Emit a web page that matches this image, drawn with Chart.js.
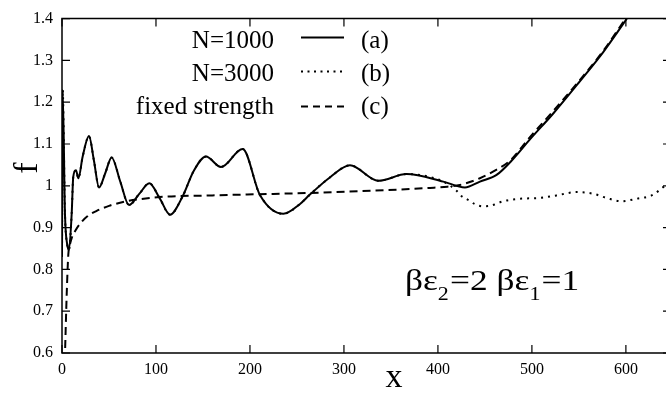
<!DOCTYPE html>
<html><head><meta charset="utf-8">
<script src="https://cdn.jsdelivr.net/npm/chart.js@4/dist/chart.umd.min.js"></script>
<style>html,body{margin:0;padding:0;overflow:hidden;background:#fff;width:666px;height:393px}</style>
</head><body>
<canvas id="c" width="672" height="393" style="width:672px;height:393px;display:block"></canvas>
<script>
// ---- data ----
const xA = [0, 0.7, 3.2, 5.5, 7.4, 10.3, 12, 14.9, 17.4, 22, 28.7, 34, 39.4, 46, 52.8, 62, 71.3, 82, 92.9, 104, 114.9, 128.4, 140, 153.2, 169.1, 192.2, 210.6, 235.5, 253, 263.8, 285, 306.4, 336.5, 366.7, 405.7, 428.7, 444.7, 462.4, 480, 497.9, 522.7, 551, 575.9, 600.7, 625];
const yA = [0.83, 1.23, 0.93, 0.86, 0.847, 0.933, 1.022, 1.037, 1.018, 1.07, 1.119, 1.06, 0.996, 1.03, 1.068, 1.01, 0.954, 0.98, 1.006, 0.97, 0.931, 0.975, 1.035, 1.07, 1.045, 1.088, 0.978, 0.933, 0.956, 0.979, 1.02, 1.049, 1.012, 1.028, 1.010, 0.996, 1.010, 1.026, 1.064, 1.111, 1.173, 1.250, 1.320, 1.399, 1.48];

const xB = [0, 0.7, 3.2, 5.5, 7.4, 10.3, 12, 14.9, 17.4, 22, 28.7, 34, 39.4, 46, 52.8, 62, 71.3, 82, 92.9, 104, 114.9, 128.4, 140, 153.2, 169.1, 192.2, 210.6, 235.5, 253, 263.8, 285, 306.4, 336.5, 366.7, 405.7, 419.9, 425.2, 432.3, 439.4, 448, 455.3, 469.5, 487.2, 508.5, 526.2, 547.5, 565.2, 579.4, 595.4, 611.3, 627.3, 640.4, 650];
const yB = [0.83, 1.23, 0.93, 0.86, 0.847, 0.933, 1.022, 1.037, 1.018, 1.07, 1.119, 1.06, 0.996, 1.03, 1.068, 1.01, 0.954, 0.98, 1.006, 0.97, 0.931, 0.975, 1.035, 1.07, 1.045, 1.088, 0.978, 0.933, 0.956, 0.979, 1.02, 1.049, 1.012, 1.028, 1.010, 0.988, 0.975, 0.966, 0.956, 0.951, 0.952, 0.963, 0.969, 0.971, 0.977, 0.985, 0.981, 0.971, 0.963, 0.969, 0.977, 0.998, 1.015];

const xC = [2.5, 3.2, 5, 6.7, 8.5, 10.3, 14, 19.1, 27, 36.9, 50, 68.8, 104, 160, 263.8, 359.6, 391.5, 410, 423.4, 444.7, 462, 476.6, 497, 522, 551, 576, 600, 625];
const yC = [0.55, 0.6, 0.74, 0.835, 0.86, 0.875, 0.892, 0.909, 0.927, 0.940, 0.952, 0.963, 0.973, 0.977, 0.983, 0.991, 0.995, 0.998, 1.002, 1.018, 1.038, 1.060, 1.114, 1.177, 1.253, 1.323, 1.401, 1.48];

const seriesLabels = ['N=1000', 'N=3000', 'fixed strength'];
const seriesTags = ['(a)', '(b)', '(c)'];
const xTicks = [0, 100, 200, 300, 400, 500, 600];
const yTicks = [0.6, 0.7, 0.8, 0.9, 1.0, 1.1, 1.2, 1.3, 1.4];
const xTitle = 'x';
const yTitle = 'f';
const noteParts = [['βε', false], ['2', true], ['=2 βε', false], ['1', true], ['=1', false]];

// ---- styling ----
const SERIF = '"Liberation Serif", "Times New Roman", serif';
const dashes = [[], [2, 5], [8, 5]];
const legendDashes = [[], [2, 4.5], [7, 5]];

const pts = (xs, ys) => xs.map((x, i) => ({x: x, y: ys[i]}));

const decor = {
  id: 'decor',
  afterDraw(chart) {
    const ctx = chart.ctx;
    const a = chart.chartArea;
    const sx = chart.scales.x, sy = chart.scales.y;
    ctx.save();
    ctx.strokeStyle = '#000';
    ctx.lineWidth = 1.5;
    ctx.beginPath();
    ctx.rect(a.left, a.top, a.right - a.left, a.bottom - a.top);
    ctx.stroke();
    ctx.lineWidth = 1.2;
    const tl = 8;
    ctx.beginPath();
    xTicks.forEach(v => {
      const p = sx.getPixelForValue(v);
      ctx.moveTo(p, a.bottom); ctx.lineTo(p, a.bottom - tl);
      ctx.moveTo(p, a.top); ctx.lineTo(p, a.top + tl);
    });
    yTicks.forEach(v => {
      const p = sy.getPixelForValue(v);
      ctx.moveTo(a.left, p); ctx.lineTo(a.left + tl, p);
      ctx.moveTo(a.right, p); ctx.lineTo(a.right - tl, p);
    });
    ctx.stroke();

    // axis titles
    ctx.fillStyle = '#000';
    ctx.textAlign = 'center';
    ctx.textBaseline = 'alphabetic';
    ctx.font = '34px ' + SERIF;
    ctx.fillText(xTitle, 394, 387);
    ctx.save();
    ctx.translate(37, 168);
    ctx.rotate(-Math.PI / 2);
    ctx.font = '34px ' + SERIF;
    ctx.fillText(yTitle, 0, 0);
    ctx.restore();

    // legend
    const base = [48, 81, 114];
    const lineY = [37.5, 71.5, 106.5];
    chart.data.datasets.forEach((ds, i) => {
      ctx.font = '25px ' + SERIF;
      ctx.textBaseline = 'alphabetic';
      ctx.textAlign = 'right';
      ctx.fillText(seriesLabels[i], 274, base[i]);
      ctx.textAlign = 'left';
      ctx.fillText(seriesTags[i], 361, base[i]);
      ctx.beginPath();
      ctx.setLineDash(legendDashes[i]);
      ctx.lineWidth = i === 1 ? 1.8 : 2;
      ctx.moveTo(301, lineY[i]); ctx.lineTo(344, lineY[i]);
      ctx.stroke();
      ctx.setLineDash([]);
    });

    // annotation (slightly wide face, as in the reference)
    ctx.save();
    ctx.translate(405, 290);
    ctx.scale(1.22, 1);
    let x = 0;
    ctx.textAlign = 'left';
    ctx.textBaseline = 'alphabetic';
    noteParts.forEach(([t, sub]) => {
      ctx.font = (sub ? '18px ' : '29px ') + SERIF;
      ctx.fillText(t, x, sub ? 10 : 0);
      x += ctx.measureText(t).width + (sub ? 1 : 0);
    });
    ctx.restore();
    ctx.restore();
  }
};

new Chart(document.getElementById('c'), {
  type: 'line',
  data: {
    datasets: [
      {label: seriesLabels[0], data: pts(xA, yA), borderColor: '#000', borderWidth: 2, borderDash: dashes[0], pointRadius: 0, cubicInterpolationMode: 'monotone', clip: 0, fill: false},
      {label: seriesLabels[1], data: pts(xB, yB), borderColor: '#000', borderWidth: 2, borderDash: dashes[1], pointRadius: 0, cubicInterpolationMode: 'monotone', clip: 0, fill: false},
      {label: seriesLabels[2], data: pts(xC, yC), borderColor: '#000', borderWidth: 2, borderDash: dashes[2], pointRadius: 0, cubicInterpolationMode: 'monotone', clip: 0, fill: false}
    ]
  },
  options: {
    responsive: false,
    devicePixelRatio: 1,
    animation: false,
    layout: {padding: {top: 9, right: 1, left: 0, bottom: 0}},
    plugins: {legend: {display: false}, tooltip: {enabled: false}},
    scales: {
      x: {
        type: 'linear', min: 0, max: 648,
        afterBuildTicks: s => { s.ticks = xTicks.map(v => ({value: v})); },
        afterFit: s => { s.height = 40; },
        grid: {display: false, drawTicks: false},
        border: {display: false},
        ticks: {padding: 7, color: '#000', font: {family: SERIF, size: 16}, maxRotation: 0, callback: v => String(v)}
      },
      y: {
        type: 'linear', min: 0.6, max: 1.4,
        afterBuildTicks: s => { s.ticks = yTicks.map(v => ({value: v})); },
        afterFit: s => { s.width = 62; },
        grid: {display: false, drawTicks: false},
        border: {display: false},
        ticks: {padding: 9, color: '#000', font: {family: SERIF, size: 16}, callback: v => String(Number(v.toFixed(1)))}
      }
    }
  },
  plugins: [decor]
});
</script>
</body></html>
